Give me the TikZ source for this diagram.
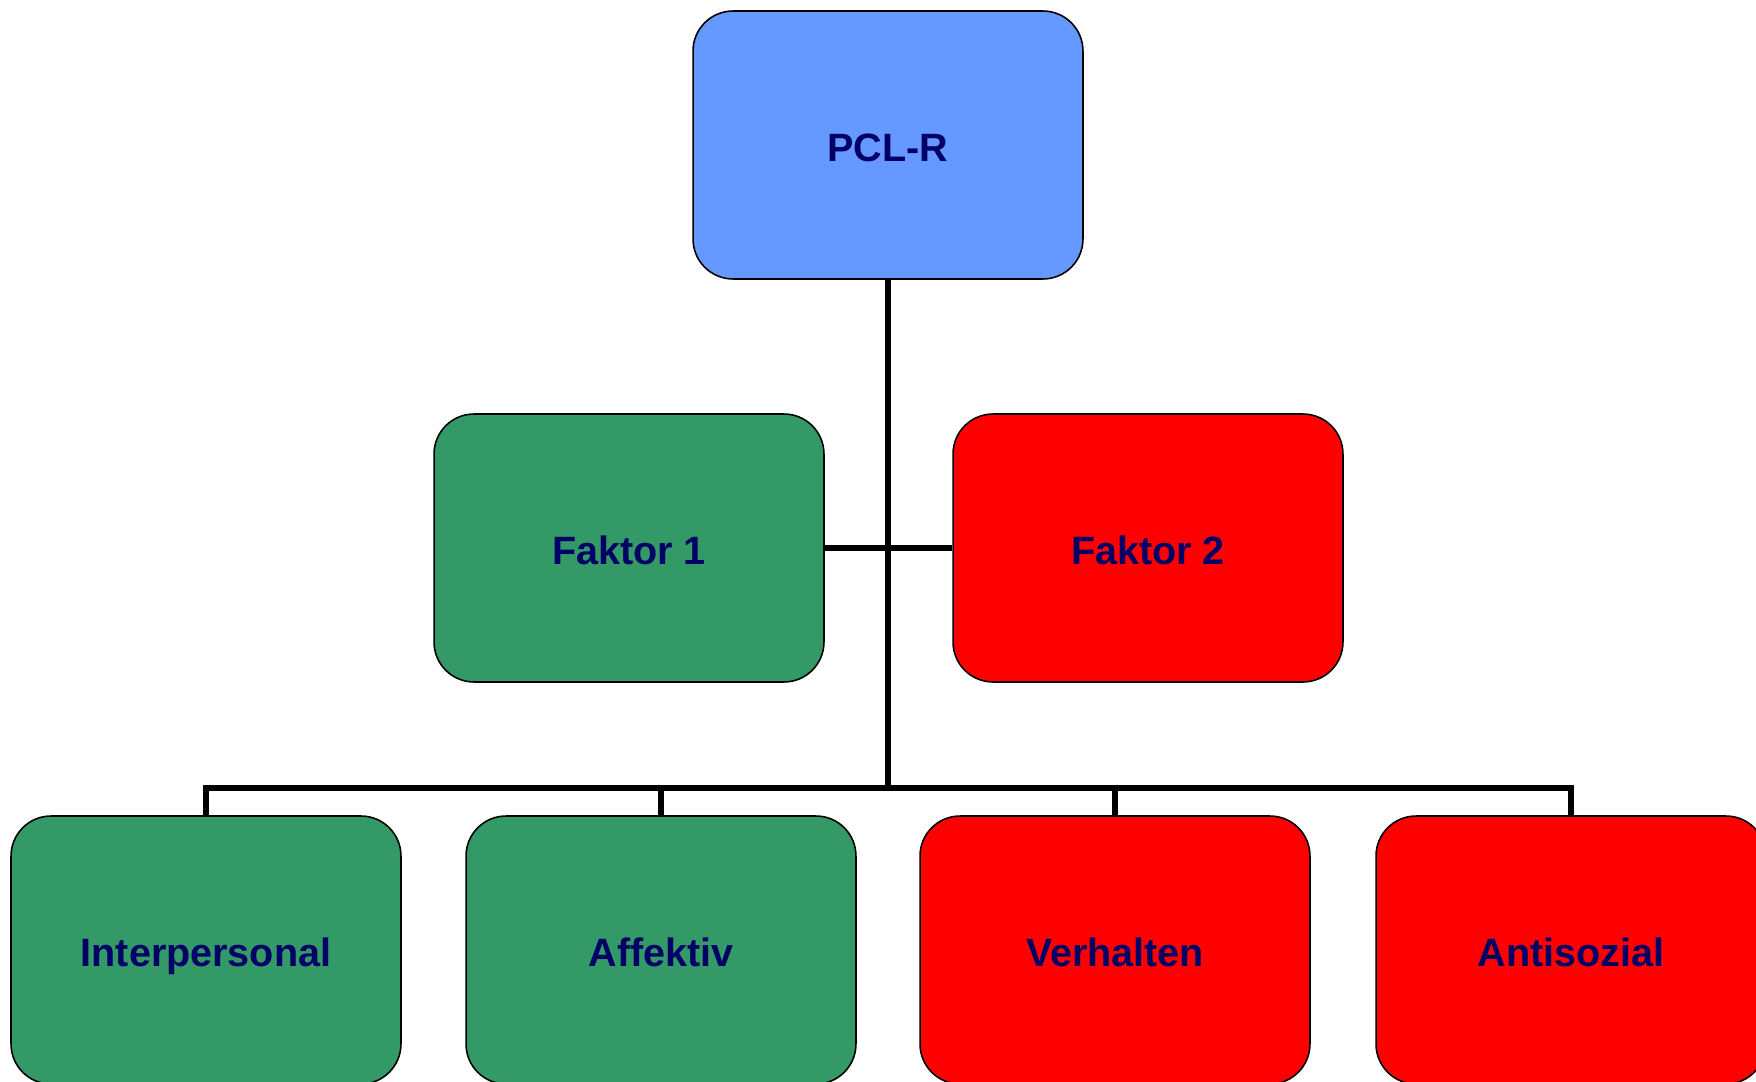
\documentclass[tikz,border=0pt]{standalone}
\usepackage{fontspec}
\setmainfont{Liberation Sans}[Ligatures=NoCommon]
\usepackage{tikz}
\usetikzlibrary{positioning}

\definecolor{pclblue}{HTML}{6699FF}
\definecolor{faktorgreen}{HTML}{339966}
\definecolor{faktorred}{HTML}{FF0000}
\definecolor{labelnavy}{HTML}{000066}

\begin{document}
\begin{tikzpicture}[x=0.02cm, y=-0.02cm,
    box/.style={draw=black, line width=0.9pt, rounded corners=0.8cm,
      minimum width=7.8cm, minimum height=5.36cm, inner sep=0pt,
      text height=18.3pt, text depth=0pt,
      text=labelnavy, font=\fontsize{22.5}{27}\selectfont\bfseries},
    conn/.style={draw=black, line width=3.2pt}]
            \clip (0, 0) rectangle (1756, 1082);

            \node[box, fill=pclblue] (pcl) at (888, 145) {PCL-R};
            \node[box, fill=faktorgreen] (f1) at (629, 548) {Faktor 1};
            \node[box, fill=faktorred] (f2) at (1148, 548) {Faktor 2};

            \node[box, fill=faktorgreen] (inter) at (206, 950) {Interpersonal};
            \node[box, fill=faktorgreen] (aff) at (661, 950) {Af\kern0ptfektiv};
            \node[box, fill=faktorred] (verh) at (1115, 950) {Verhalten};
            \node[box, fill=faktorred] (anti) at (1571, 950) {Antisozial};

            \coordinate (bus) at (888, 788);

            \draw[conn] (pcl) -- (bus);
            \draw[conn] (f1) -- (f2);
            \draw[conn] (inter.north) |- (bus) -| (anti.north);
            \draw[conn] (aff.north) -- (aff.north |- bus);
            \draw[conn] (verh.north) -- (verh.north |- bus);
        \end{tikzpicture}
\end{document}
